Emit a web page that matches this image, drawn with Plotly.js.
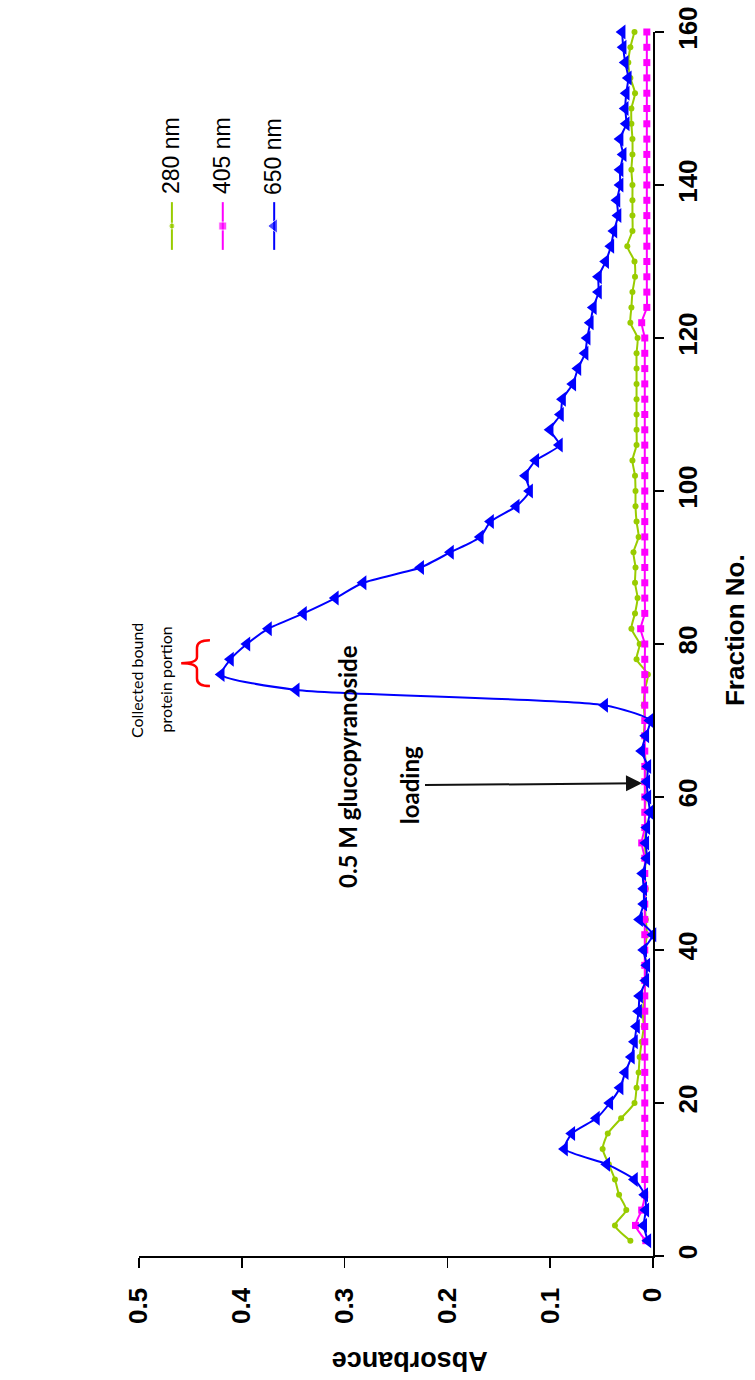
<!DOCTYPE html>
<html>
<head>
<meta charset="utf-8">
<script src="https://cdn.plot.ly/plotly-3.0.1.min.js"></script>
<style>html,body{margin:0;padding:0;background:#fff;}#chart{width:755px;height:1380px;}</style>
</head>
<body>
<div id="chart"></div>
<script>
// Fraction numbers
var fractions = [2,4,6,8,10,12,14,16,18,20,22,24,26,28,30,32,34,36,38,40,
  42,44,46,48,50,52,54,56,58,60,62,64,66,68,70,72,74,76,78,80,
  82,84,86,88,90,92,94,96,98,100,102,104,106,108,110,112,114,116,118,120,
  122,124,126,128,130,132,134,136,138,140,142,144,146,148,150,152,154,156,158,160];

// Absorbance 280 nm
var abs280 = [0.022,0.037,0.026,0.033,0.037,0.043,0.049,0.044,0.031,0.018,
  0.016,0.014,0.013,0.011,0.009,0.010,0.008,0.008,0.007,0.008,
  0.006,0.007,0.008,0.007,0.008,0.007,0.008,0.007,0.008,0.007,
  0.008,0.007,0.008,0.009,0.008,0.009,0.008,0.005,0.016,0.013,
  0.021,0.0175,0.015,0.0175,0.017,0.019,0.014,0.016,0.017,0.017,
  0.0175,0.020,0.016,0.016,0.016,0.016,0.016,0.016,0.016,0.015,
  0.022,0.021,0.020,0.0175,0.018,0.025,0.020,0.020,0.020,0.020,
  0.021,0.020,0.020,0.021,0.021,0.0175,0.022,0.024,0.022,0.018];

// Absorbance 405 nm
var abs405 = [0.007,0.017,0.011,0.008,0.008,0.008,0.008,0.008,0.008,0.008,
  0.008,0.008,0.008,0.008,0.008,0.008,0.008,0.008,0.008,0.008,
  0.008,0.008,0.008,0.008,0.008,0.008,0.011,0.008,0.008,0.008,
  0.008,0.008,0.008,0.008,0.008,0.008,0.008,0.008,0.008,0.008,
  0.012,0.008,0.008,0.008,0.008,0.008,0.008,0.008,0.008,0.008,
  0.008,0.008,0.008,0.008,0.008,0.008,0.008,0.008,0.008,0.008,
  0.011,0.006,0.006,0.006,0.006,0.006,0.006,0.006,0.006,0.006,
  0.006,0.006,0.006,0.006,0.006,0.006,0.006,0.006,0.006,0.006];

// Absorbance 650 nm
var abs650 = [0.005,0.009,0.007,0.008,0.018,0.045,0.086,0.079,0.055,0.042,
  0.032,0.027,0.021,0.018,0.016,0.014,0.013,0.007,0.006,0.009,
  0.000,0.013,0.009,0.009,0.010,0.006,0.007,0.006,0.003,0.005,
  0.006,0.005,0.011,0.007,0.003,0.047,0.347,0.420,0.411,0.395,
  0.374,0.340,0.309,0.282,0.226,0.197,0.168,0.158,0.133,0.120,
  0.124,0.114,0.091,0.100,0.090,0.088,0.078,0.073,0.066,0.064,
  0.061,0.058,0.053,0.053,0.046,0.041,0.038,0.034,0.035,0.032,
  0.032,0.029,0.032,0.026,0.027,0.026,0.024,0.027,0.029,0.030];

var seriesNames = ["280 nm", "405 nm", "650 nm"];
var xTickVals = [0, 0.1, 0.2, 0.3, 0.4, 0.5];
var xTickText = ["0", "0.1", "0.2", "0.3", "0.4", "0.5"];
var yTickVals = [0, 20, 40, 60, 80, 100, 120, 140, 160];

var cGreen = "#99cc00", cPink = "#ff00ff", cBlue = "#0000ff";
var tickFont = {family: "Liberation Sans, Arial, sans-serif", size: 26, color: "#000", weight: "bold"};

var traces = [
  {x: abs280, y: fractions, type: "scatter", mode: "lines+markers", name: seriesNames[0],
   line: {color: cGreen, width: 2, shape: "spline", smoothing: 0.6},
   marker: {symbol: "circle", size: 6, color: cGreen}, cliponaxis: false, showlegend: false},
  {x: abs405, y: fractions, type: "scatter", mode: "lines+markers", name: seriesNames[1],
   line: {color: cPink, width: 2, shape: "spline", smoothing: 0.6},
   marker: {symbol: "square", size: 7, color: cPink}, cliponaxis: false, showlegend: false},
  {x: abs650, y: fractions, type: "scatter", mode: "lines+markers", name: seriesNames[2],
   line: {color: cBlue, width: 2, shape: "spline", smoothing: 0.6},
   marker: {symbol: "triangle-left", size: 13, color: cBlue}, cliponaxis: false, showlegend: false}
];

// Legend samples (rotated legend, drawn on a paper-like overlay axis)
var legendX = [0.064, 0.163, 0.263];
var legendSym = ["circle", "square", "triangle-left"];
var legendSize = [6, 8, 13];
var legendCol = [cGreen, cPink, cBlue];
for (var i = 0; i < 3; i++) {
  traces.push({x: [legendX[i], legendX[i], legendX[i]], y: [0.861, 0.8415, 0.822],
    xaxis: "x2", yaxis: "y2", type: "scatter", mode: "lines+markers", showlegend: false,
    hoverinfo: "skip", line: {color: legendCol[i], width: 2},
    marker: {symbol: legendSym[i], size: [0, legendSize[i], 0], color: legendCol[i]}});
}

function note(x, y, text, angle, font) {
  return {xref: "paper", yref: "paper", x: x, y: y, text: text, showarrow: false, textangle: angle,
          xanchor: "center", yanchor: "middle", font: font};
}
var arialB = function (s) { return {family: "Liberation Sans, Arial, sans-serif", size: s, weight: "bold", color: "#000"}; };
var arialR = function (s) { return {family: "Liberation Sans, Arial, sans-serif", size: s, color: "#000"}; };
var latoR = function (s) { return {family: "Lato, sans-serif", size: s, color: "#000"}; };
var latoB = function (s) { return {family: "Lato, sans-serif", size: s, weight: "bold", color: "#000"}; };

var annotations = [
  note(1.1595, 0.5114, "Fraction No.", -90, arialB(26)),
  note(0.527, -0.0858, "Absorbance", 180, arialB(27)),
  note(-0.0039, 0.4706, "Collected bound", -90, latoR(16)),
  note(0.0525, 0.4710, "protein portion", -90, latoR(16)),
  note(0.4047, 0.3995, "0.5 M glucopyranoside", -90, latoB(24)),
  {x: 0.0107, y: 61.8, xref: "x", yref: "y", text: "loading", textangle: -90, showarrow: true,
   ax: -233, ay: 2, arrowhead: 2, arrowsize: 1.6, arrowwidth: 2, arrowcolor: "#111", standoff: 0,
   font: latoB(24)},
  note(0.0623, 0.8987, seriesNames[0], -90, arialR(23)),
  note(0.1615, 0.8987, seriesNames[1], -90, arialR(23)),
  note(0.2607, 0.8987, seriesNames[2], -90, arialR(23))
];

var layout = {
  width: 755, height: 1380,
  margin: {l: 139, r: 102, t: 32, b: 124, pad: 0},
  paper_bgcolor: "#fff", plot_bgcolor: "#fff",
  showlegend: false,
  xaxis: {range: [0.5, 0], tickvals: xTickVals, ticktext: xTickText,
    tickangle: -90, ticks: "outside", ticklen: 10, tickwidth: 1.5, tickcolor: "#000",
    showline: true, linecolor: "#000", linewidth: 1.5, showgrid: false, zeroline: false,
    tickfont: tickFont, ticklabelstandoff: 10, anchor: "y"},
  yaxis: {range: [0, 160], tickvals: yTickVals, side: "right",
    tickangle: -90, ticks: "outside", ticklen: 9, tickwidth: 1.5, tickcolor: "#000",
    showline: true, linecolor: "#000", linewidth: 1.5, showgrid: false, zeroline: false,
    tickfont: tickFont, ticklabelstandoff: 2, anchor: "x"},
  xaxis2: {range: [0, 1], overlaying: "x", visible: false, anchor: "y2"},
  yaxis2: {range: [0, 1], overlaying: "y", visible: false, anchor: "x2"},
  shapes: [
    {type: "path", xref: "x", yref: "y", line: {color: "#ff0000", width: 2.5},
     path: "M 0.431 80.5 Q 0.4436 80.5 0.4436 79.5 L 0.4436 78.3 Q 0.4436 77.5 0.459 77.5 Q 0.4436 77.5 0.4436 76.7 L 0.4436 75.5 Q 0.4436 74.5 0.431 74.5"}
  ],
  annotations: annotations
};

Plotly.newPlot("chart", traces, layout, {staticPlot: true, displayModeBar: false});
</script>
</body>
</html>
